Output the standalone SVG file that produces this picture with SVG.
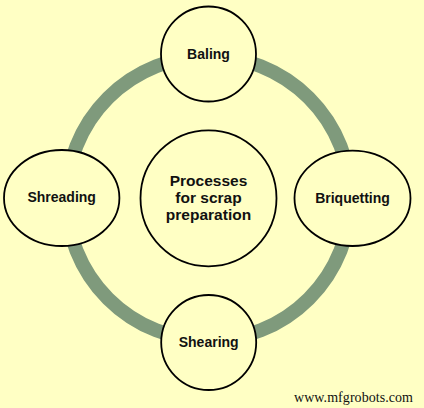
<svg xmlns="http://www.w3.org/2000/svg" width="424" height="408" viewBox="0 0 424 408">
<style>
.node{fill:#FFFFC4;stroke:#000;stroke-width:1.8}
.lbl{font-family:"Liberation Sans",Arial,sans-serif;font-weight:bold;font-size:14px;fill:#111;text-anchor:middle}
.ctr{font-size:15.5px}
</style>
<rect x="0" y="0" width="424" height="408" fill="#FFFFC4"/>
<g id="connectors">
<circle cx="208.5" cy="198.3" r="142" fill="none" stroke="#7F9A7C" stroke-width="14"/>
</g>
<g id="center">
<circle class="node" cx="208.5" cy="198.3" r="68"/>
<text class="lbl ctr" x="208.5" y="185.5">Processes</text>
<text class="lbl ctr" x="208.5" y="202.5">for scrap</text>
<text class="lbl ctr" x="208.5" y="219.5">preparation</text>
</g>
<g id="baling">
<circle class="node" cx="208.5" cy="54" r="47.5"/>
<text class="lbl" x="208.5" y="58.5">Baling</text>
</g>
<g id="briquetting">
<ellipse class="node" cx="352.5" cy="198.3" rx="58" ry="47.7"/>
<text class="lbl" x="352.5" y="202.5">Briquetting</text>
</g>
<g id="shearing">
<circle class="node" cx="208.7" cy="342.5" r="47.5"/>
<text class="lbl" x="208.7" y="347">Shearing</text>
</g>
<g id="shreading">
<ellipse class="node" cx="61.7" cy="198" rx="57.7" ry="48"/>
<text class="lbl" x="61.7" y="201.5">Shreading</text>
</g>
<text x="294" y="402" font-family="'Liberation Serif','Times New Roman',serif" font-size="14" fill="#111" textLength="119">www.mfgrobots.com</text>
</svg>
